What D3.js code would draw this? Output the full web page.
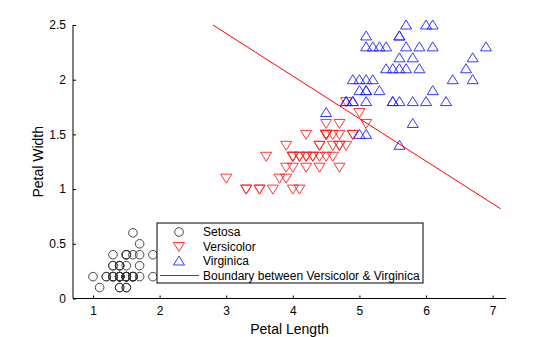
<!DOCTYPE html>
<html>
<head>
<meta charset="utf-8">
<script src="https://cdn.jsdelivr.net/npm/d3@7"></script>
<style>
  body { margin: 0; background: #fff; }
  text { font-family: "Liberation Sans", Arial, sans-serif; fill: #000; }
</style>
</head>
<body>
<div id="chart"></div>
<script>
// iris petal measurements [length, width]
var setosa = [
  [1.4,0.2],[1.4,0.2],[1.3,0.2],[1.5,0.2],[1.4,0.2],[1.7,0.4],[1.4,0.3],[1.5,0.2],[1.4,0.2],[1.5,0.1],
  [1.5,0.2],[1.6,0.2],[1.4,0.1],[1.1,0.1],[1.2,0.2],[1.5,0.4],[1.3,0.4],[1.4,0.3],[1.7,0.3],[1.5,0.3],
  [1.7,0.2],[1.5,0.4],[1.0,0.2],[1.7,0.5],[1.9,0.2],[1.6,0.2],[1.6,0.4],[1.5,0.2],[1.4,0.2],[1.6,0.2],
  [1.6,0.2],[1.5,0.4],[1.5,0.1],[1.4,0.2],[1.5,0.2],[1.2,0.2],[1.3,0.2],[1.4,0.1],[1.3,0.2],[1.5,0.2],
  [1.3,0.3],[1.3,0.3],[1.3,0.2],[1.6,0.6],[1.9,0.4],[1.4,0.3],[1.6,0.2],[1.4,0.2],[1.5,0.2],[1.4,0.2]
];
var versicolor = [
  [4.7,1.4],[4.5,1.5],[4.9,1.5],[4.0,1.3],[4.6,1.5],[4.5,1.3],[4.7,1.6],[3.3,1.0],[4.6,1.3],[3.9,1.4],
  [3.5,1.0],[4.2,1.5],[4.0,1.0],[4.7,1.4],[3.6,1.3],[4.4,1.4],[4.5,1.5],[4.1,1.0],[4.5,1.5],[3.9,1.1],
  [4.8,1.8],[4.0,1.3],[4.9,1.5],[4.7,1.2],[4.3,1.3],[4.4,1.4],[4.8,1.4],[5.0,1.7],[4.5,1.5],[3.5,1.0],
  [3.8,1.1],[3.7,1.0],[3.9,1.2],[5.1,1.6],[4.5,1.5],[4.5,1.6],[4.7,1.5],[4.4,1.3],[4.1,1.3],[4.0,1.3],
  [4.4,1.2],[4.6,1.4],[4.0,1.2],[3.3,1.0],[4.2,1.3],[4.2,1.2],[4.2,1.3],[4.3,1.3],[3.0,1.1],[4.1,1.3]
];
var virginica = [
  [6.0,2.5],[5.1,1.9],[5.9,2.1],[5.6,1.8],[5.8,2.2],[6.6,2.1],[4.5,1.7],[6.3,1.8],[5.8,1.8],[6.1,2.5],
  [5.1,2.0],[5.3,1.9],[5.5,2.1],[5.0,2.0],[5.1,2.4],[5.3,2.3],[5.5,1.8],[6.7,2.2],[6.9,2.3],[5.0,1.5],
  [5.7,2.3],[4.9,2.0],[6.7,2.0],[4.9,1.8],[5.7,2.1],[6.0,1.8],[4.8,1.8],[4.9,1.8],[5.6,2.1],[5.8,1.6],
  [6.1,1.9],[6.4,2.0],[5.6,2.2],[5.1,1.5],[5.6,1.4],[6.1,2.3],[5.6,2.4],[5.5,1.8],[4.8,1.8],[5.4,2.1],
  [5.6,2.4],[5.1,2.3],[5.1,1.9],[5.9,2.3],[5.7,2.5],[5.2,2.3],[5.0,1.9],[5.2,2.0],[5.4,2.3],[5.1,1.8]
];
var boundary = [[2.8, 2.5], [7.12, 0.82]];

var xTicks = [1, 2, 3, 4, 5, 6, 7];
var yTicks = [0, 0.5, 1, 1.5, 2, 2.5];
var legendLabels = ["Setosa", "Versicolor", "Virginica", "Boundary between Versicolor & Virginica"];

var width = 560, height = 337;
var svg = d3.select("#chart").append("svg")
    .attr("width", width)
    .attr("height", height);

var xScale = d3.scaleLinear().domain([0.7, 7.2]).range([73, 506]);
var yScale = d3.scaleLinear().domain([0, 2.5]).range([298.5, 25]);

// axes: ticks pointing inward
var xAxis = d3.axisBottom(xScale).tickValues(xTicks).tickSize(-3).tickPadding(8)
    .tickFormat(d3.format("d"));
var yAxis = d3.axisLeft(yScale).tickValues(yTicks).tickSize(-3).tickPadding(7)
    .tickFormat(function(d) { return d === 0 ? "0" : d3.format("")(d); });

var gx = svg.append("g").attr("transform", "translate(0," + yScale(0) + ")").call(xAxis);
var gy = svg.append("g").attr("transform", "translate(" + xScale(0.7) + ",0)").call(yAxis);
[gx, gy].forEach(function(g) {
  g.select(".domain").attr("stroke", "#000").attr("d", function() {
    return g === gx ? "M73,0H506" : "M0,25V298.5";
  });
  g.selectAll(".tick line").attr("stroke", "#000");
  g.selectAll(".tick text").attr("font-size", 12).attr("font-family", "Liberation Sans, Arial, sans-serif").attr("fill", "#000");
});

svg.append("text")
    .attr("x", (73 + 506) / 2)
    .attr("y", 334)
    .attr("text-anchor", "middle")
    .attr("font-size", 14)
    .text("Petal Length");

svg.append("text")
    .attr("transform", "translate(43," + yScale(1.25) + ") rotate(-90)")
    .attr("text-anchor", "middle")
    .attr("font-size", 14)
    .text("Petal Width");

// marker shapes
function circlePath(s) { return d3.symbol().type(d3.symbolCircle).size(s)(); }
function triUp(r) { return "M0," + (-r) + "L" + (r * 1.1) + "," + (r * 0.8) + "L" + (-r * 1.1) + "," + (r * 0.8) + "Z"; }
function triDown(r) { return "M0," + r + "L" + (r * 1.1) + "," + (-r * 0.8) + "L" + (-r * 1.1) + "," + (-r * 0.8) + "Z"; }

var markers = svg.append("g");

markers.selectAll(".setosa").data(setosa).enter().append("circle")
    .attr("class", "setosa")
    .attr("cx", function(d) { return xScale(d[0]); })
    .attr("cy", function(d) { return yScale(d[1]); })
    .attr("r", 4.3)
    .attr("fill", "none")
    .attr("stroke", "#333")
    .attr("stroke-width", 0.9);

markers.selectAll(".versi").data(versicolor).enter().append("path")
    .attr("class", "versi")
    .attr("d", triDown(5))
    .attr("transform", function(d) { return "translate(" + xScale(d[0]) + "," + yScale(d[1]) + ")"; })
    .attr("fill", "none")
    .attr("stroke", "#ff2020")
    .attr("stroke-width", 0.9);

markers.selectAll(".virg").data(virginica).enter().append("path")
    .attr("class", "virg")
    .attr("d", triUp(5))
    .attr("transform", function(d) { return "translate(" + xScale(d[0]) + "," + yScale(d[1]) + ")"; })
    .attr("fill", "none")
    .attr("stroke", "#2020ff")
    .attr("stroke-width", 0.9);

var line = d3.line().x(function(d) { return xScale(d[0]); }).y(function(d) { return yScale(d[1]); });
svg.append("path")
    .datum(boundary)
    .attr("d", line)
    .attr("fill", "none")
    .attr("stroke", "#ff0000")
    .attr("stroke-width", 1);

// legend
var lg = svg.append("g").attr("transform", "translate(157,223)");
lg.append("rect")
    .attr("width", 266)
    .attr("height", 60)
    .attr("fill", "#fff")
    .attr("stroke", "#000")
    .attr("stroke-width", 1);

var rowY = [9, 23.5, 38, 52.5];
lg.append("circle").attr("cx", 22).attr("cy", rowY[0]).attr("r", 4.3)
    .attr("fill", "none").attr("stroke", "#333").attr("stroke-width", 0.9);
lg.append("path").attr("d", triDown(5)).attr("transform", "translate(22," + rowY[1] + ")")
    .attr("fill", "none").attr("stroke", "#ff2020").attr("stroke-width", 0.9);
lg.append("path").attr("d", triUp(5)).attr("transform", "translate(22," + rowY[2] + ")")
    .attr("fill", "none").attr("stroke", "#2020ff").attr("stroke-width", 0.9);
lg.append("line").attr("x1", 3).attr("x2", 42).attr("y1", rowY[3]).attr("y2", rowY[3])
    .attr("stroke", "#ff0000").attr("stroke-width", 1);

lg.selectAll(".lbl").data(legendLabels).enter().append("text")
    .attr("class", "lbl")
    .attr("x", 46)
    .attr("y", function(d, i) { return rowY[i] + 4; })
    .attr("font-size", 12)
    .text(function(d) { return d; });
</script>
</body>
</html>
